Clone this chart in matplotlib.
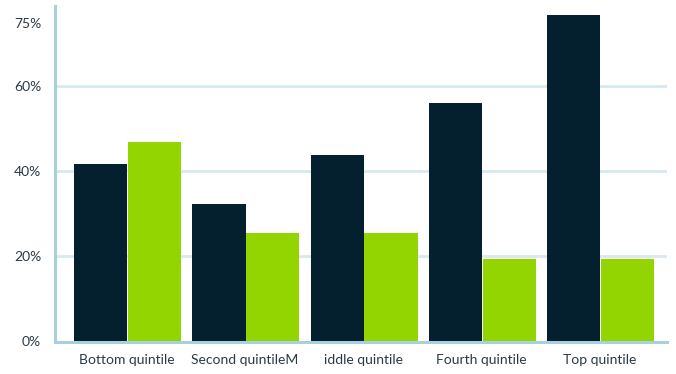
import numpy as np
import matplotlib
matplotlib.use("Agg")
import matplotlib.pyplot as plt

# share of households in each income quintile (%)
groups = ["Bottom quintile", "Second quintileM", "iddle quintile", "Fourth quintile", "Top quintile"]
dark_vals = [41.8, 32.4, 43.9, 56.1, 76.8]
green_vals = [46.9, 25.5, 25.5, 19.4, 19.4]
yticks = [0, 20, 40, 60, 75]
ytick_labels = ["0%", "20%", "40%", "60%", "75%"]
grid_vals = [20, 40, 60]

plt.rcParams['font.family'] = ['Lato', 'DejaVu Sans']

fig = plt.figure(figsize=(6.76, 3.74), dpi=100)
ax = fig.add_axes([55 / 676, 32.5 / 374, 612 / 676, 335.5 / 374])

x = np.arange(len(groups))
w = 0.45
ax.bar(x - w / 2 + 0.006, dark_vals, width=w, color="#04202f", zorder=3)
ax.bar(x + w / 2 + 0.012, green_vals, width=w, color="#93d500", zorder=3)

for g in grid_vals:
    ax.axhline(g, color="#d7e9ef", lw=2, zorder=1)

ax.set_xlim(-0.606, 4.572)
ax.set_ylim(0, 78.9)
ax.set_yticks(yticks)
ax.set_yticklabels(ytick_labels)
ax.set_xticks(x)
ax.set_xticklabels(groups)
ax.tick_params(axis="both", length=0, labelsize=10, colors="#2b3a44")
ax.tick_params(axis="y", pad=10)
ax.tick_params(axis="x", pad=9)

for s in ["top", "right"]:
    ax.spines[s].set_visible(False)
for s in ["left", "bottom"]:
    ax.spines[s].set_color("#a8cfdc")
    ax.spines[s].set_linewidth(2.2)
    ax.spines[s].set_zorder(4)

fig.savefig("out.png", dpi=100)
